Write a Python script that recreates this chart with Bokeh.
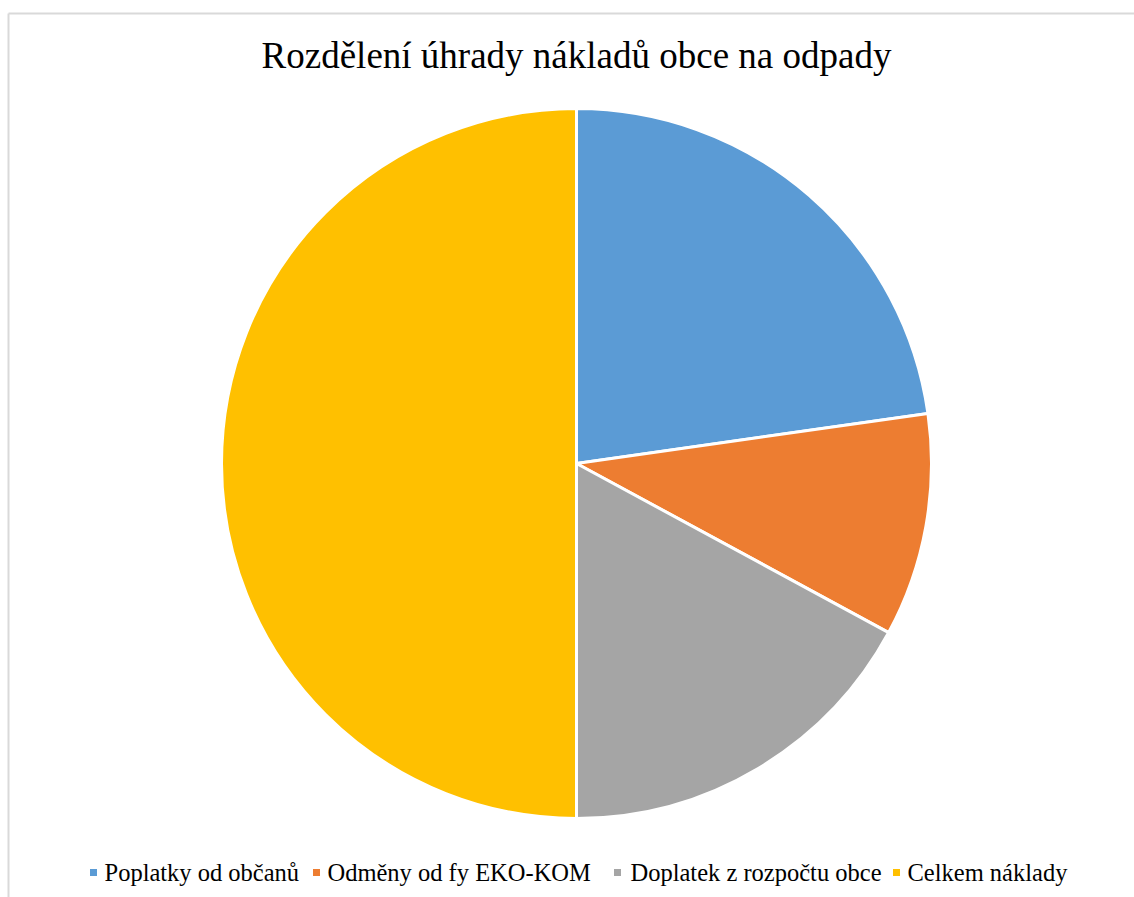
import math
from bokeh.plotting import figure
from bokeh.models import Range1d, ColumnDataSource
from bokeh.core.properties import value
from bokeh.embed import file_html
from bokeh.resources import INLINE

# Data
categories = ["Poplatky od občanů", "Odměny od fy EKO-KOM", "Doplatek z rozpočtu obce", "Celkem náklady"]
values = [455000, 203000, 342000, 1000000]
colors = ["#5B9BD5", "#ED7D31", "#A5A5A5", "#FFC000"]
title_text = "Rozdělení úhrady nákladů obce na odpady"

W, H = 1134, 897
p = figure(width=W, height=H, output_backend="svg", toolbar_location=None,
           x_range=Range1d(0, W), y_range=Range1d(-H, 0),
           min_border=0, outline_line_color=None)
p.axis.visible = False
p.grid.visible = False
p.background_fill_color = "white"
p.border_fill_color = "white"

# chart area border (top and left edges visible)
p.segment(x0=[8, 8], y0=[-13, -13], x1=[1140, 8], y1=[-13, -900],
          line_color="#D9D9D9", line_width=2)

# pie
total = sum(values)
starts, ends = [], []
cum = 0.0
for v in values:
    a0 = math.pi / 2 - 2 * math.pi * cum / total
    cum += v
    a1 = math.pi / 2 - 2 * math.pi * cum / total
    starts.append(a0)
    ends.append(a1)
src = ColumnDataSource(dict(start=starts, end=ends, color=colors, cat=categories))
p.wedge(x=576, y=-463, radius=355, radius_units="screen",
        start_angle="start", end_angle="end", direction="clock",
        fill_color="color", line_color="white", line_width=3, source=src)

# title
p.text(x=[576], y=[-55], text=[title_text], text_align="center", text_baseline="middle",
       text_font=value("Liberation Serif"), text_font_size="37px", text_color="#000000")

# legend
sq_x = [93, 316, 617, 896]
tx_x = [104, 327, 630, 907]
ly = -872
p.rect(x=sq_x, y=[ly] * 4, width=7, height=7, width_units="screen", height_units="screen",
       fill_color=colors, line_color=None)
p.text(x=tx_x, y=[ly] * 4, text=categories, text_align="left", text_baseline="middle",
       text_font=value("Liberation Serif"), text_font_size="24.5px", text_color="#000000")

open("out.html", "w").write(file_html(p, INLINE))
